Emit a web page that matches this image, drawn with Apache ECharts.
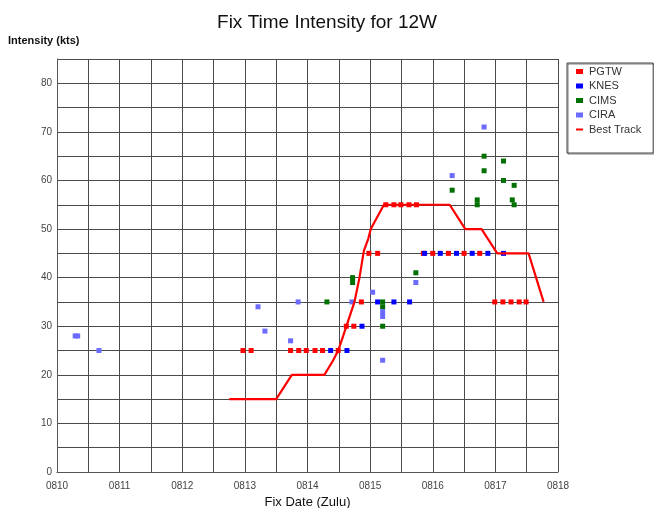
<!DOCTYPE html>
<html>
<head>
<meta charset="utf-8">
<script src="https://cdn.jsdelivr.net/npm/echarts@6/dist/echarts.min.js"></script>
<style>
  html, body { margin: 0; padding: 0; background: #fff; }
  #main { width: 654px; height: 508px; }
</style>
</head>
<body>
<div id="main"></div>
<script type="text/javascript">
    // x = day of August (13.75 -> 0813 18Z), y = intensity in kts
    var dayLabels = ['0810','0811','0812','0813','0814','0815','0816','0817','0818'];
    var pgtw = [[12.97,25],[13.1,25],[13.73,25],[13.86,25],[13.98,25],[14.12,25],[14.24,25],[14.49,25],
        [14.62,30],[14.74,30],[14.86,35],[14.98,45],[15.12,45],
        [15.25,55],[15.38,55],[15.49,55],[15.62,55],[15.74,55],
        [15.85,45],[16.0,45],[16.25,45],[16.5,45],[16.75,45],
        [16.99,35],[17.12,35],[17.25,35],[17.38,35],[17.49,35]];
    var knes = [[14.37,25],[14.63,25],[14.87,30],[15.12,35],[15.38,35],[15.63,35],
        [15.87,45],[16.12,45],[16.38,45],[16.63,45],[16.88,45],[17.13,45]];
    var cims = [[14.31,35],[14.72,40],[14.72,39],[15.2,35],[15.2,34],[15.2,30],[15.73,41],
        [16.31,58],[16.71,56],[16.71,55],[16.82,65],[16.82,62],[17.13,64],[17.13,60],
        [17.3,59],[17.27,56],[17.3,55]];
    var cira = [[10.29,28],[10.33,28],[10.67,25],[13.21,34],[13.32,29],[13.73,27],[13.85,35],
        [14.71,35],[15.04,37],[15.2,33],[15.2,32],[15.2,23],[15.73,39],[16.31,61],[16.82,71]];
    var bestTrack = [[12.75,15],[13.5,15],[13.75,20],[14.27,20],[14.41,23],[14.49,25],[14.57,28],
        [14.75,35],[14.83,40],[14.9,45.5],[14.97,48],[15.01,50],[15.22,55],[16.27,55],
        [16.52,50],[16.78,50],[17.03,45],[17.53,45],[17.77,35]];

    var font = '"Liberation Sans", Arial, sans-serif';
    var myChart = echarts.init(document.getElementById('main'));

    function dots(name, color, data) {
        return {
            name: name, type: 'scatter', data: data,
            symbol: 'rect', symbolSize: 5,
            itemStyle: { color: color, opacity: 1 }
        };
    }

    var op = {
        backgroundColor: '#fff',
        animation: false,
        title: {
            text: 'Fix Time Intensity for 12W',
            left: 'center', top: 8,
            textStyle: { fontFamily: font, fontSize: 19, fontWeight: 'normal', color: '#111' }
        },
        graphic: [{
            type: 'text', left: 8, top: 35,
            style: { text: 'Intensity (kts)', font: 'bold 11px ' + font, fill: '#111' }
        }],
        legend: {
            orient: 'vertical', left: 567, top: 63,
            padding: [3, 12, 18, 9],
            itemWidth: 7, itemHeight: 5, itemGap: 3.5,
            borderColor: '#444', borderWidth: 1,
            shadowColor: 'rgba(0,0,0,0.5)', shadowOffsetX: 1, shadowOffsetY: 1,
            textStyle: { fontFamily: font, fontSize: 11, color: '#333', lineHeight: 11, padding: [0, 0, 0, 1] },
            data: [
                { name: 'PGTW', icon: 'rect' },
                { name: 'KNES', icon: 'rect' },
                { name: 'CIMS', icon: 'rect' },
                { name: 'CIRA', icon: 'rect' },
                { name: 'Best Track', icon: 'path://M0,0h7v2h-7z' }
            ]
        },
        grid: { left: 57, right: 96, top: 59, bottom: 36, outerBoundsMode: 'none', containLabel: false },
        xAxis: {
            type: 'value', min: 10, max: 18, interval: 0.5,
            name: 'Fix Date (Zulu)', nameLocation: 'middle', nameGap: 24,
            nameTextStyle: { fontFamily: font, fontSize: 13, color: '#111' },
            axisLine: { lineStyle: { color: '#555' } },
            axisTick: { show: false },
            axisLabel: {
                margin: 9, fontFamily: font, fontSize: 10, color: '#444',
                formatter: function (v) {
                    return v % 1 === 0 ? dayLabels[v - 10] : '';
                }
            },
            splitLine: { show: true, lineStyle: { color: '#4a4a4a', width: 1 } }
        },
        yAxis: {
            type: 'value', min: 0, max: 85, interval: 5,
            axisLine: { show: true, lineStyle: { color: '#555' } },
            axisTick: { show: false },
            axisLabel: {
                margin: 5, fontFamily: font, fontSize: 10, color: '#444',
                formatter: function (v) { return v % 10 === 0 ? String(v) : ''; }
            },
            splitLine: { show: true, lineStyle: { color: '#4a4a4a', width: 1 } }
        },
        series: [
            dots('PGTW', '#ff0000', pgtw),
            dots('KNES', '#0000ff', knes),
            dots('CIMS', '#007000', cims),
            dots('CIRA', '#6b6bff', cira),
            {
                name: 'Best Track', type: 'line', data: bestTrack,
                symbol: 'none', smooth: false,
                lineStyle: { color: '#ff0000', width: 2.2 },
                itemStyle: { color: '#ff0000' }
            }
        ]
    };
    myChart.setOption(op);
</script>
</body>
</html>
